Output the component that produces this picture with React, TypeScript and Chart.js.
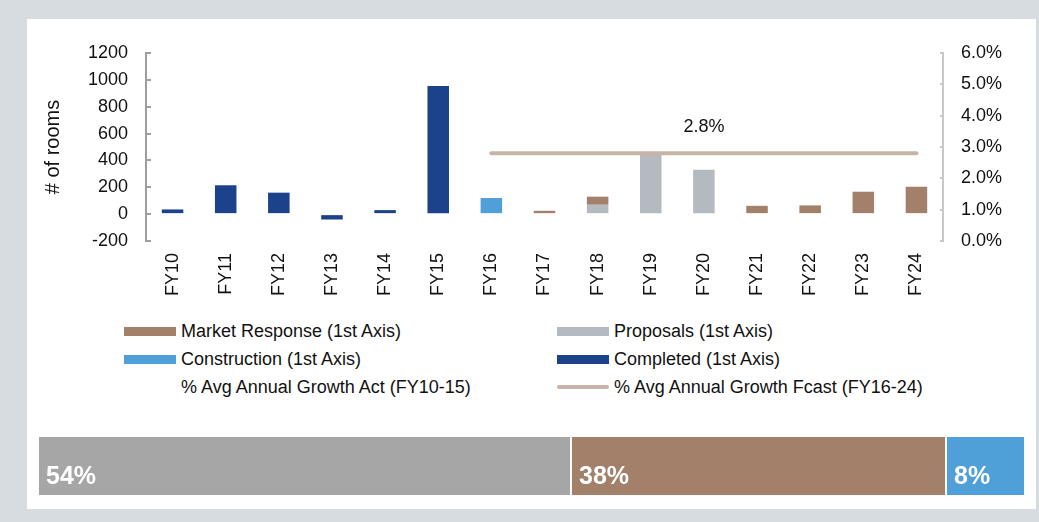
import React, { useEffect, useRef } from "react";
import { Chart, registerables } from "chart.js";

Chart.register(...registerables);

const FONT = "'Liberation Sans', Arial, Helvetica, sans-serif";

const categories = ["FY10", "FY11", "FY12", "FY13", "FY14", "FY15", "FY16", "FY17", "FY18", "FY19", "FY20", "FY21", "FY22", "FY23", "FY24"];
const completed = [35, 215, 160, -40, 30, 955, null, null, null, null, null, null, null, null, null];
const construction = [null, null, null, null, null, null, 120, null, null, null, null, null, null, null, null];
const proposals = [null, null, null, null, null, null, null, null, 70, 460, 330, null, null, null, null];
const marketResponse = [null, null, null, null, null, null, null, 25, 60, null, null, 62, 65, 167, 204];
const growthAct = [null, null, null, null, null, null, null, null, null, null, null, null, null, null, null];
const growthFcast = [null, null, null, null, null, null, 2.8, 2.8, 2.8, 2.8, 2.8, 2.8, 2.8, 2.8, 2.8];
const growthLabelAt = "FY20";

const leftAxis = { min: -200, max: 1200, step: 200 };
const rightAxis = { min: 0, max: 6, step: 1 };

const shareLabels = ["Proposals", "Market Response", "Construction"];
const shareValues = [54, 38, 8];

const C_MARKET = "#A3806A";
const C_PROPOSALS = "#B4BAC0";
const C_CONSTRUCTION = "#4F9FD8";
const C_COMPLETED = "#1B428A";
const C_LINE = "#C9B3A6";
const C_SHARE = ["#A6A6A6", "#A3806A", "#4F9FD8"];

const legendItems = [
  { label: "Market Response (1st Axis)", color: C_MARKET, kind: "box", col: 0, row: 0 },
  { label: "Proposals (1st Axis)", color: C_PROPOSALS, kind: "box", col: 1, row: 0 },
  { label: "Construction (1st Axis)", color: C_CONSTRUCTION, kind: "box", col: 0, row: 1 },
  { label: "Completed (1st Axis)", color: C_COMPLETED, kind: "box", col: 1, row: 1 },
  { label: "% Avg Annual Growth Act (FY10-15)", color: "transparent", kind: "none", col: 0, row: 2 },
  { label: "% Avg Annual Growth Fcast (FY16-24)", color: C_LINE, kind: "line", col: 1, row: 2 },
];

function MainChart() {
  const ref = useRef<HTMLCanvasElement | null>(null);
  useEffect(() => {
    if (!ref.current) return;
    const lineLabelPlugin = {
      id: "lineLabel",
      afterDatasetsDraw(chart: any) {
        const meta = chart.getDatasetMeta(0);
        const idx = categories.indexOf(growthLabelAt);
        const pt = meta.data[idx];
        const v = growthFcast[idx];
        if (!pt || v == null) return;
        const ctx = chart.ctx;
        ctx.save();
        ctx.font = `18px ${FONT}`;
        ctx.fillStyle = "#111";
        ctx.textAlign = "center";
        ctx.textBaseline = "middle";
        ctx.fillText(`${v.toFixed(1)}%`, pt.x, pt.y - 26);
        ctx.restore();
      },
    };
    const barCommon = {
      type: "bar" as const,
      barPercentage: 0.405,
      categoryPercentage: 1,
      stack: "rooms",
      yAxisID: "y",
      order: 1,
      borderWidth: 0,
    };
    const chart = new Chart(ref.current, {
      type: "bar",
      data: {
        labels: categories,
        datasets: [
          {
            type: "line",
            label: "% Avg Annual Growth Fcast (FY16-24)",
            data: growthFcast,
            yAxisID: "y1",
            borderColor: C_LINE,
            backgroundColor: C_LINE,
            borderWidth: 4,
            borderCapStyle: "round",
            pointRadius: 0,
            order: 0,
          } as any,
          {
            type: "line",
            label: "% Avg Annual Growth Act (FY10-15)",
            data: growthAct,
            yAxisID: "y1",
            borderColor: "transparent",
            pointRadius: 0,
            order: 0,
          } as any,
          { ...barCommon, label: "Completed (1st Axis)", data: completed, backgroundColor: C_COMPLETED },
          { ...barCommon, label: "Construction (1st Axis)", data: construction, backgroundColor: C_CONSTRUCTION },
          { ...barCommon, label: "Proposals (1st Axis)", data: proposals, backgroundColor: C_PROPOSALS },
          { ...barCommon, label: "Market Response (1st Axis)", data: marketResponse, backgroundColor: C_MARKET },
        ],
      },
      options: {
        responsive: false,
        animation: false,
        layout: { padding: { top: 34, left: 0, right: 0, bottom: 0 } },
        plugins: { legend: { display: false }, tooltip: { enabled: false } },
        scales: {
          x: {
            stacked: true,
            grid: { display: false, drawTicks: false },
            border: { display: false },
            ticks: {
              minRotation: 90,
              maxRotation: 90,
              padding: 12,
              color: "#111",
              font: { family: FONT, size: 18 },
            },
            afterFit: (s: any) => {
              s.height = 68;
            },
          },
          y: {
            position: "left",
            stacked: true,
            min: leftAxis.min,
            max: leftAxis.max,
            ticks: {
              stepSize: leftAxis.step,
              padding: 23,
              color: "#111",
              font: { family: FONT, size: 18 },
              callback: (v: any) => String(Math.round(Number(v))),
            },
            grid: { drawOnChartArea: false, drawTicks: true, tickLength: -5, color: "#9E9E9E", lineWidth: 2 },
            border: { display: true, color: "#9E9E9E", width: 2 },
            title: {
              display: true,
              text: "# of rooms",
              color: "#111",
              font: { family: FONT, size: 20 },
              padding: { top: 14, bottom: 0 },
            },
            afterFit: (s: any) => {
              s.width = 119;
            },
          },
          y1: {
            position: "right",
            stacked: false,
            min: rightAxis.min,
            max: rightAxis.max,
            ticks: {
              stepSize: rightAxis.step,
              padding: 21,
              color: "#111",
              font: { family: FONT, size: 18 },
              callback: (v: any) => `${Number(v).toFixed(1)}%`,
            },
            grid: { drawOnChartArea: false, drawTicks: true, tickLength: -3, color: "#C8C8C8", lineWidth: 2 },
            border: { display: true, color: "#C8C8C8", width: 2 },
            afterFit: (s: any) => {
              s.width = 93;
            },
          },
        },
      } as any,
      plugins: [lineLabelPlugin],
    });
    return () => chart.destroy();
  }, []);
  return <canvas ref={ref} width={1009} height={290} style={{ position: "absolute", left: 27, top: 19 }} />;
}

function ShareChart() {
  const ref = useRef<HTMLCanvasElement | null>(null);
  useEffect(() => {
    if (!ref.current) return;
    const labelPlugin = {
      id: "shareLabels",
      afterDatasetsDraw(chart: any) {
        const ctx = chart.ctx;
        ctx.save();
        ctx.font = `bold 25px ${FONT}`;
        ctx.fillStyle = "#FFFFFF";
        ctx.textAlign = "left";
        ctx.textBaseline = "alphabetic";
        chart.data.datasets.forEach((ds: any, i: number) => {
          const el = chart.getDatasetMeta(i).data[0];
          if (!el) return;
          const left = Math.min(el.x, el.base);
          ctx.fillText(`${ds.data[0]}%`, left + 8, el.y + 18);
        });
        ctx.restore();
      },
    };
    const chart = new Chart(ref.current, {
      type: "bar",
      data: {
        labels: [""],
        datasets: shareLabels.map((l, i) => ({
          label: l,
          data: [shareValues[i]],
          backgroundColor: C_SHARE[i],
          borderColor: "#FFFFFF",
          borderWidth: { left: 1.3, right: 1.3, top: 0, bottom: 0 },
          borderSkipped: false,
          barPercentage: 1,
          categoryPercentage: 1,
        })),
      },
      options: {
        indexAxis: "y",
        responsive: false,
        animation: false,
        layout: { padding: 0 },
        plugins: { legend: { display: false }, tooltip: { enabled: false } },
        scales: {
          x: { stacked: true, display: false, min: 0, max: 100 },
          y: { stacked: true, display: false },
        },
      } as any,
      plugins: [labelPlugin],
    });
    return () => chart.destroy();
  }, []);
  return <canvas ref={ref} width={987} height={58} style={{ position: "absolute", left: 37.7, top: 437 }} />;
}

function Legend() {
  const colX = [124, 557];
  const rowY = [331, 359, 387];
  return (
    <>
      {legendItems.map((it) => (
        <div
          key={it.label}
          style={{
            position: "absolute",
            left: colX[it.col],
            top: rowY[it.row] - 12,
            height: 24,
            display: "flex",
            alignItems: "center",
            fontFamily: FONT,
            fontSize: 18,
            color: "#111",
            whiteSpace: "nowrap",
          }}
        >
          <span
            style={{
              display: "inline-block",
              width: 52,
              height: it.kind === "line" ? 4 : 9,
              borderRadius: it.kind === "line" ? 2 : 0,
              background: it.kind === "none" ? "transparent" : it.color,
              marginRight: 5,
            }}
          />
          <span>{it.label}</span>
        </div>
      ))}
    </>
  );
}

export default function App() {
  return (
    <div style={{ position: "absolute", left: 0, top: 0, width: 1039, height: 522, background: "#D6DCDF", overflow: "hidden" }}>
      <div style={{ position: "absolute", left: 27, top: 19, width: 1009, height: 490, background: "#FFFFFF" }} />
      <MainChart />
      <Legend />
      <ShareChart />
    </div>
  );
}
